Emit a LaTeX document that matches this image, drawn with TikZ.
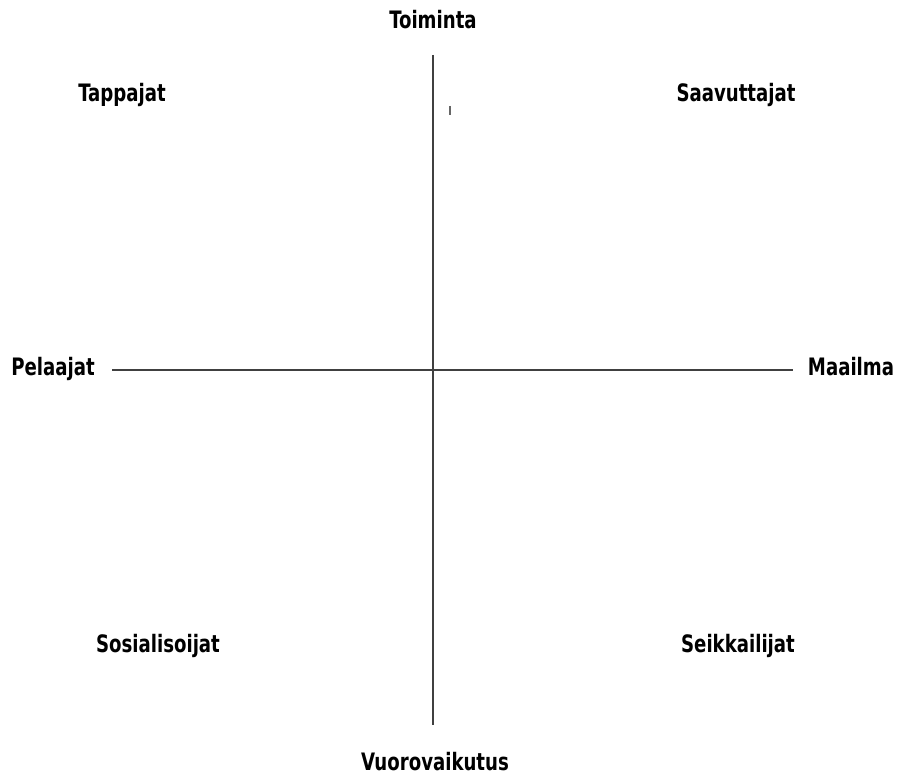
\documentclass[tikz,border=0pt]{standalone}
\usepackage{fontspec}
\newfontfamily\labelfont{DejaVu Sans Condensed}[BoldFont={DejaVu Sans Condensed Bold}]
\newcommand{\quadlbl}[1]{\scalebox{0.84}[1]{\labelfont\bfseries\fontsize{24}{28}\selectfont #1}}
\begin{document}
\begin{tikzpicture}[x=1pt,y=1pt,
  lbl/.style={text=black, inner sep=0pt, anchor=base},
  axis/.style={draw=black!75, line width=1.3pt}]
\useasboundingbox (0,0) rectangle (900,776);
\node[lbl] (top) at (433,747) {\quadlbl{Toiminta}};
\node[lbl] (bot) at (435,5) {\quadlbl{Vuorovaikutus}};
\node[lbl] (left) at (53,400) {\quadlbl{Pelaajat}};
\node[lbl] (right) at (851,400) {\quadlbl{Maailma}};
\node[lbl] (tl) at (122,674) {\quadlbl{Tappajat}};
\node[lbl] (tr) at (736,674) {\quadlbl{Saavuttajat}};
\node[lbl] (bl) at (158,123) {\quadlbl{Sosialisoijat}};
\node[lbl] (br) at (738,123) {\quadlbl{Seikkailijat}};
\coordinate (vt) at (433,721);
\coordinate (vb) at (433,51);
\coordinate (hl) at (112,406);
\coordinate (hr) at (793,406);
\coordinate (t1) at (450,670);
\coordinate (t2) at (450,661);
\draw[axis] (vt) -- (vb);
\draw[axis] (hl) -- (hr);
\draw[draw=black!60, line width=1.2pt] (t1) -- (t2);
\end{tikzpicture}
\end{document}
